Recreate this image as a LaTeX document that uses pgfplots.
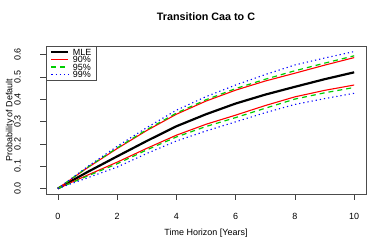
\documentclass[border=0pt]{standalone}
\usepackage{pgfplots}
\pgfplotsset{compat=1.18}
\usepackage{pgfplotstable}
\usepackage{fontspec}
\setmainfont{Liberation Sans}
\definecolor{rgreen}{RGB}{0,205,0}
\definecolor{rblue}{RGB}{0,0,255}
\definecolor{rred}{RGB}{255,0,0}
\pgfplotstableread{
t    mle    u90    l90    u95    l95    u99    l99
0    0.000  0.000  0.000  0.000  0.000  0.000  0.000
1    0.074  0.093  0.060  0.095  0.056  0.098  0.048
2    0.144  0.179  0.118  0.182  0.111  0.189  0.096
3    0.213  0.260  0.180  0.264  0.173  0.273  0.157
4    0.279  0.333  0.239  0.338  0.231  0.351  0.213
5    0.333  0.392  0.288  0.398  0.278  0.412  0.258
6    0.381  0.441  0.329  0.448  0.318  0.464  0.299
7    0.421  0.482  0.372  0.490  0.360  0.511  0.340
8    0.456  0.517  0.411  0.528  0.401  0.554  0.377
9    0.490  0.553  0.440  0.562  0.429  0.585  0.403
10   0.521  0.587  0.464  0.595  0.453  0.614  0.427
}\data
\begin{document}
\begin{tikzpicture}
\path[use as bounding box] (0,0) rectangle (390bp,251bp);
\begin{axis}[
  at={(46bp,57bp)}, anchor=south west,
  scale only axis, width=320bp, height=148bp,
  xmin=-0.4, xmax=10.4, ymin=-0.0246, ymax=0.639,
  xtick={0,2,4,6,8,10},
  ytick={0,0.1,0.2,0.3,0.4,0.5,0.6},
  /pgf/number format/assume math mode=true,
  yticklabel style={rotate=90, anchor=center, yshift=23bp, /pgf/number format/fixed, /pgf/number format/fixed zerofill, /pgf/number format/precision=1},
  xticklabel style={anchor=center, yshift=-17bp},
  xtick pos=bottom, ytick pos=left,
  tick align=outside, major tick length=5.5bp,
  tick style={black!75, line width=0.6pt},
  axis line style={black!70, line width=0.6pt},
  ticklabel style={font=\fontsize{9}{10}\selectfont},
  label style={font=\fontsize{9}{10}\selectfont},
  xlabel={Time Horizon [Years]},
  ylabel={Probability of Default},
  xlabel style={at={(axis description cs:0.5,-0.264)}, anchor=center},
  ylabel style={at={(axis description cs:-0.1125,0.5)}, anchor=center},
  title={\bfseries Transition Caa to C},
  title style={at={(axis description cs:0.5,1.155)}, anchor=center, font=\fontsize{10.8}{12}\selectfont},
  legend style={at={(0,1)}, anchor=north west, draw=black!70, line width=0.5pt,
     font=\fontsize{9}{7.5}\selectfont, inner xsep=4bp, inner ysep=2bp, row sep=0pt, column sep=3bp,
     nodes={inner sep=0.5bp, text height=6.5bp, text depth=0bp}},
  legend cell align=left,
  legend image code/.code={\draw[#1] (0bp,0bp) -- (17bp,0bp);},
]
\addplot[black, line width=2.2pt] table[x=t, y=mle] {\data};
\addlegendentry{MLE}
\addplot[rred, line width=1.1pt] table[x=t, y=u90] {\data};
\addlegendentry{90\%}
\addplot[rgreen, line width=1.2pt, dash pattern=on 5bp off 4bp] table[x=t, y=u95] {\data};
\addlegendentry{95\%}
\addplot[rblue, line width=1.1pt, dash pattern=on 1.2bp off 3bp] table[x=t, y=u99] {\data};
\addlegendentry{99\%}
\addplot[rred, line width=1.1pt, forget plot] table[x=t, y=l90] {\data};
\addplot[rgreen, line width=1.2pt, dash pattern=on 5bp off 4bp, forget plot] table[x=t, y=l95] {\data};
\addplot[rblue, line width=1.1pt, dash pattern=on 1.2bp off 3bp, forget plot] table[x=t, y=l99] {\data};
\end{axis}
\end{tikzpicture}
\end{document}
